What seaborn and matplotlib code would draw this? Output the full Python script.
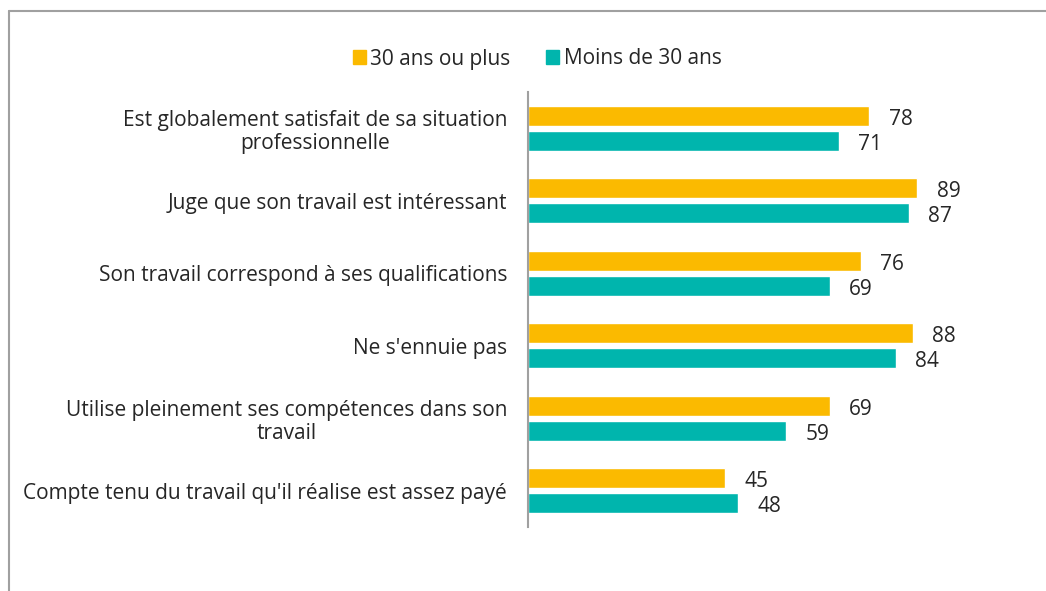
import matplotlib
matplotlib.use("Agg")
import matplotlib.pyplot as plt
import seaborn as sns
import pandas as pd
from matplotlib.lines import Line2D

categories = [
    "Est globalement satisfait de sa situation\nprofessionnelle",
    "Juge que son travail est intéressant",
    "Son travail correspond à ses qualifications",
    "Ne s'ennuie pas",
    "Utilise pleinement ses compétences dans son\ntravail",
    "Compte tenu du travail qu'il réalise est assez payé",
]
series_names = ["30 ans ou plus", "Moins de 30 ans"]
values_30_plus = [78, 89, 76, 88, 69, 45]
values_moins_30 = [71, 87, 69, 84, 59, 48]
colors = ["#FBBA00", "#00B5AD"]

df = pd.DataFrame({
    "cat": categories * 2,
    "grp": [series_names[0]] * 6 + [series_names[1]] * 6,
    "val": values_30_plus + values_moins_30,
})

sns.set_theme(style="white")
plt.rcParams["font.family"] = ["Open Sans", "DejaVu Sans"]
text_color = "#262626"
fs = 15

W, H = 1046, 591
fig = plt.figure(figsize=(W / 100, H / 100), dpi=100)
ax_left = 528 / W
ax_right = (528 + 4.375 * 110) / W
ax_top = (H - 92) / H
ax_bottom = (H - 527) / H
ax = fig.add_axes([ax_left, ax_bottom, ax_right - ax_left, ax_top - ax_bottom])

sns.barplot(data=df, y="cat", x="val", hue="grp", palette=colors, orient="h",
            width=0.69, gap=0.2, ax=ax, legend=False, saturation=1)

ax.set_xlim(0, 110)
ax.set_ylim(5.5, -0.5)
ax.set_xlabel("")
ax.set_ylabel("")
ax.set_xticks([])
ax.tick_params(axis="y", length=0, pad=15, labelsize=fs, labelcolor=text_color)
for lbl in ax.get_yticklabels():
    lbl.set_multialignment("center")
    lbl.set_linespacing(1.15)
for s in ["top", "right", "bottom"]:
    ax.spines[s].set_visible(False)
ax.spines["left"].set_color("#A0A0A0")
ax.spines["left"].set_linewidth(1.5)

for cont in ax.containers:
    texts = ax.bar_label(cont, labels=[f"{v:.0f}" for v in cont.datavalues], padding=14,
                         fontsize=fs, color=text_color)
    for t in texts:
        t.xyann = (14, -2.5)

handles = [plt.Rectangle((0, 0), 1, 1, color=c) for c in colors]
fig.legend(handles, series_names, loc="center", bbox_to_anchor=(537 / W, 1 - 59 / H),
           ncol=2, frameon=False, fontsize=fs, handlelength=0.65, handleheight=0.65,
           handletextpad=0.2, columnspacing=1.7, labelcolor=text_color)

fig.add_artist(Line2D([9 / W, 1], [1 - 11 / H, 1 - 11 / H], transform=fig.transFigure,
                      color="#A0A0A0", linewidth=1.5))
fig.add_artist(Line2D([9 / W, 9 / W], [0, 1 - 11 / H], transform=fig.transFigure,
                      color="#A0A0A0", linewidth=1.5))

fig.savefig("out.png", dpi=100, facecolor="white")
